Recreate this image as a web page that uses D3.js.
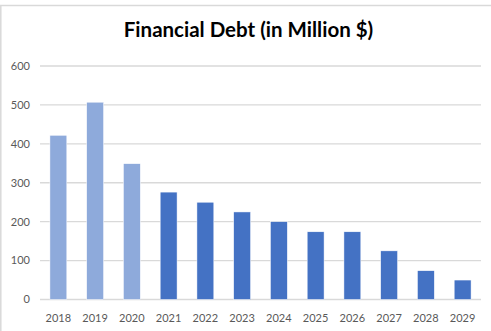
<!DOCTYPE html>
<html lang="en">
<head>
    <meta charset="UTF-8">
    <title>Financial Debt</title>
    <style>
        body { margin: 0; background: #fff; }
        svg { display: block; }
    </style>
    <script src="https://cdn.jsdelivr.net/npm/d3@7"></script>
</head>
<body>
<script>
    // values
    var years = ["2018", "2019", "2020", "2021", "2022", "2023", "2024", "2025", "2026", "2027", "2028", "2029"];
    var debt = [422, 507, 349, 276, 250, 225, 200, 174, 174, 125, 74, 50];
    var actualYears = ["2018", "2019", "2020"];
    var yTicks = [0, 100, 200, 300, 400, 500, 600];

    var width = 491, height = 331;
    var margin = {top: 66, right: 10, bottom: 31.5, left: 40};

    var svg = d3.select("body").append("svg")
        .attr("width", width)
        .attr("height", height);

    // chart border (only top and left visible in the crop)
    svg.append("path")
        .attr("d", "M0.8,331 L0.8,5.5 L491,5.5")
        .attr("fill", "none")
        .attr("stroke", "#d9d9d9")
        .attr("stroke-width", 1.5);

    var x = d3.scaleBand()
        .domain(years)
        .range([margin.left, width - margin.right])
        .paddingInner(0.54)
        .paddingOuter(0.27);

    var y = d3.scaleLinear()
        .domain([0, 600])
        .range([height - margin.bottom, margin.top]);

    // gridlines
    svg.append("g")
        .selectAll("line")
        .data(yTicks)
        .join("line")
        .attr("x1", margin.left)
        .attr("x2", width - margin.right)
        .attr("y1", d => y(d))
        .attr("y2", d => y(d))
        .attr("stroke", "#d9d9d9")
        .attr("stroke-width", 1.3);

    // y labels
    svg.append("g")
        .selectAll("text")
        .data(yTicks)
        .join("text")
        .attr("x", 30)
        .attr("y", d => y(d))
        .attr("dy", "0.35em")
        .attr("text-anchor", "end")
        .attr("fill", "#595959")
        .style("font-family", "Lato, 'Open Sans', sans-serif")
        .style("font-size", "11px")
        .text(d => d);

    // bars
    svg.append("g")
        .selectAll("rect")
        .data(years)
        .join("rect")
        .attr("x", d => x(d))
        .attr("y", (d, i) => y(debt[i]))
        .attr("width", x.bandwidth())
        .attr("height", (d, i) => y(0) - y(debt[i]))
        .attr("fill", d => actualYears.includes(d) ? "#8eaadb" : "#4472c4")
        .attr("stroke", "#ffffff")
        .attr("stroke-width", 0.5);

    // x labels
    svg.append("g")
        .selectAll("text")
        .data(years)
        .join("text")
        .attr("x", d => x(d) + x.bandwidth() / 2)
        .attr("y", 321.5)
        .attr("text-anchor", "middle")
        .attr("fill", "#595959")
        .style("font-family", "Lato, 'Open Sans', sans-serif")
        .style("font-size", "11px")
        .text(d => d);

    // title
    svg.append("text")
        .attr("x", 248.5)
        .attr("y", 37)
        .attr("text-anchor", "middle")
        .attr("fill", "#000")
        .style("font-family", "Lato, 'Open Sans', sans-serif")
        .style("font-weight", "bold")
        .style("font-size", "20.5px")
        .text("Financial Debt (in Million $)");
</script>
</body>
</html>
